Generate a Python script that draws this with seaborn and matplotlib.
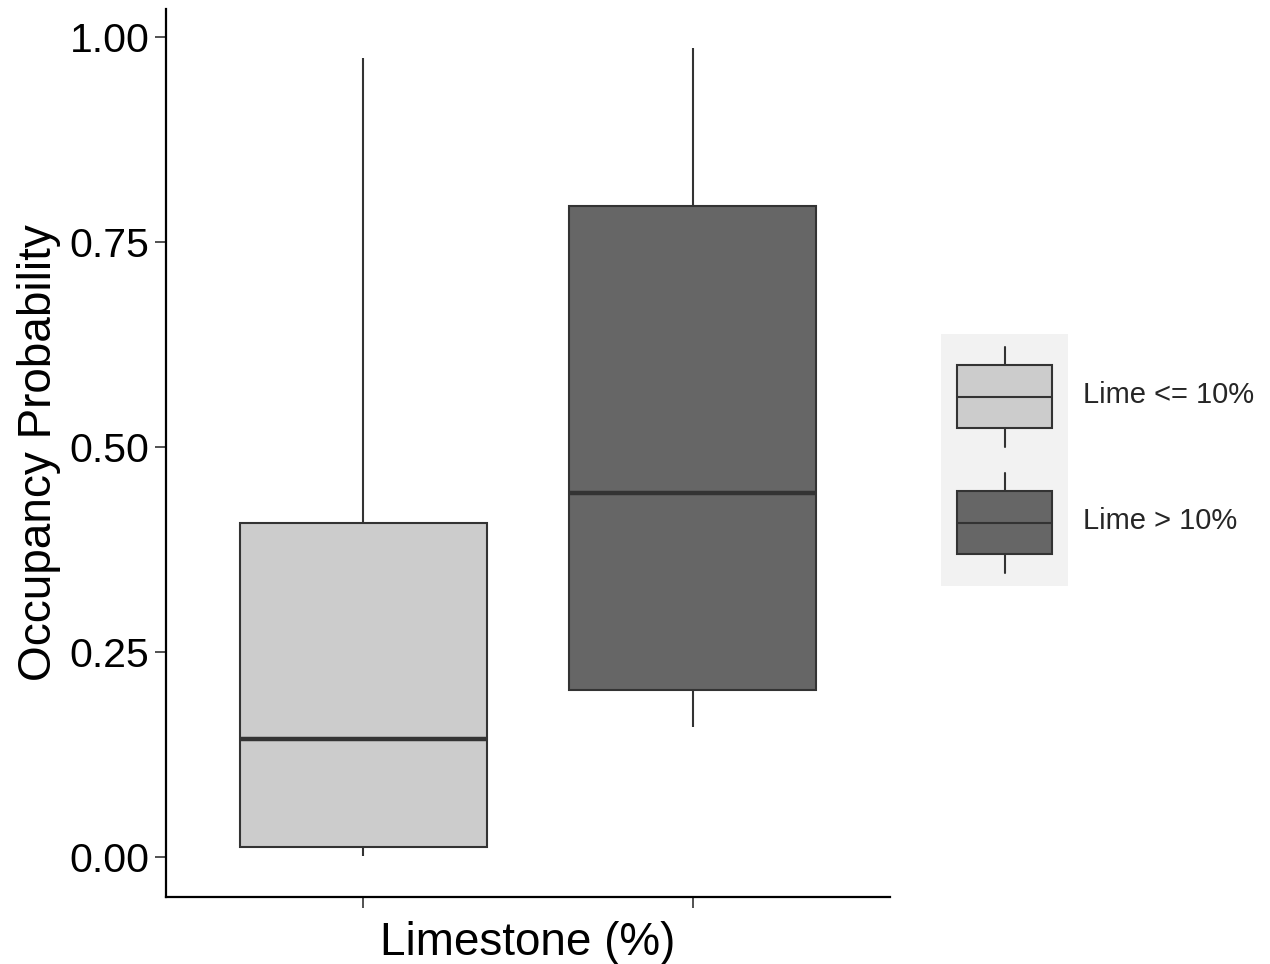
import numpy as np
import pandas as pd
import matplotlib
matplotlib.use("Agg")
import matplotlib.pyplot as plt
import seaborn as sns
from matplotlib.legend_handler import HandlerBase
from matplotlib.patches import Rectangle, Patch
from matplotlib.lines import Line2D

# ---- data (five-number summaries) ----
groups = ["Lime <= 10%", "Lime > 10%"]
lime_low = [0.001, 0.012, 0.144, 0.407, 0.974]
lime_high = [0.159, 0.204, 0.444, 0.794, 0.987]
fill_colors = ["#CCCCCC", "#666666"]
y_ticks = [0.00, 0.25, 0.50, 0.75, 1.00]
x_label = "Limestone (%)"
y_label = "Occupancy Probability"

df = pd.DataFrame({
    "group": [groups[0]] * len(lime_low) + [groups[1]] * len(lime_high),
    "value": lime_low + lime_high,
})

sns.set_style("white")
plt.rcParams["font.family"] = ["Liberation Sans", "DejaVu Sans"]

fig = plt.figure(figsize=(12.7, 9.64), dpi=100)
ax = fig.add_axes([0.1307, 0.0695, 0.7008 - 0.1307, 0.9907 - 0.0695])

line_c = "#333333"
sns.boxplot(
    data=df, x="group", y="value", hue="group", order=groups, hue_order=groups,
    palette=dict(zip(groups, fill_colors)), width=0.75, whis=(0, 100),
    showcaps=False, linecolor=line_c, linewidth=1.5, legend=False,
    medianprops={"linewidth": 3.2, "color": line_c},
    saturation=1, ax=ax,
)

ax.set_xlim(-0.6, 1.6)
ax.set_ylim(-0.0488, 1.034)
ax.set_yticks(y_ticks)
ax.set_yticklabels([f"{t:.2f}" for t in y_ticks])
ax.set_xticks([0, 1])
ax.set_xticklabels(["", ""])
ax.tick_params(axis="both", which="both", direction="out", length=8, width=1.2,
               color=line_c, labelsize=29.5, labelcolor="black", pad=4,
               left=True, bottom=True)
for s in ["top", "right"]:
    ax.spines[s].set_visible(False)
for s in ["left", "bottom"]:
    ax.spines[s].set_color("black")
    ax.spines[s].set_linewidth(1.6)
ax.set_xlabel(x_label, fontsize=33, color="black", labelpad=5)
ax.set_ylabel(y_label, fontsize=33, color="black", labelpad=6)


class BoxKeyHandler(HandlerBase):
    def create_artists(self, legend, orig_handle, xdescent, ydescent,
                       width, height, fontsize, trans):
        x0, y0 = -xdescent, -ydescent
        bg = Rectangle((x0, y0), width, height, facecolor="#F2F2F2",
                       edgecolor="none", transform=trans)
        cx = x0 + width / 2
        w1 = Line2D([cx, cx], [y0 + 0.1 * height, y0 + 0.25 * height],
                    color=line_c, lw=1.5, transform=trans)
        w2 = Line2D([cx, cx], [y0 + 0.75 * height, y0 + 0.9 * height],
                    color=line_c, lw=1.5, transform=trans)
        box = Rectangle((x0 + 0.125 * width, y0 + 0.25 * height),
                        0.75 * width, 0.5 * height,
                        facecolor=orig_handle.get_facecolor(),
                        edgecolor=line_c, lw=1.5, transform=trans)
        med = Line2D([x0 + 0.125 * width, x0 + 0.875 * width],
                     [y0 + 0.5 * height, y0 + 0.5 * height],
                     color=line_c, lw=1.5, transform=trans)
        return [bg, w1, w2, box, med]


handles = [Patch(facecolor=c) for c in fill_colors]
fs = 21
fs_px = fs * 100 / 72
hh = (126 / fs_px - 0.245) / 0.65
leg = fig.legend(handles, groups, handler_map={Patch: BoxKeyHandler()},
                 loc="center left", bbox_to_anchor=(941 / 1270, (964 - 460) / 964),
                 frameon=False, fontsize=fs, borderpad=0, borderaxespad=0,
                 handlelength=127 / fs_px, handleheight=hh, labelspacing=0,
                 handletextpad=0.5)

fig.savefig("out.png", dpi=100, facecolor="white")
